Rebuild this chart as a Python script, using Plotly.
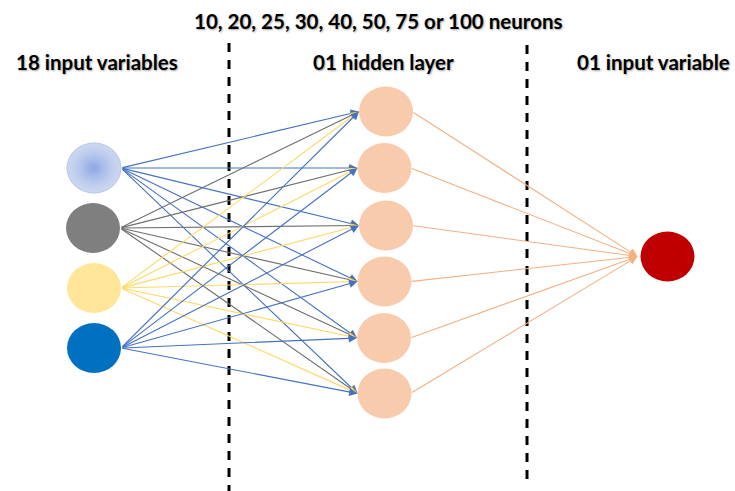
import plotly.graph_objects as go

W, H = 735, 491

# ---- data (diagram layout) ----
input_labels = ["input 1", "input 2", "input 3", "input 4"]
input_x = [94, 93, 94, 94]
input_y = [168, 228, 288, 348]
input_colors = ["#C9D6EF", "#7F7F7F", "#FFE699", "#0070C0"]
edge_colors = ["#4472C4", "#6F6F6F", "#FFD966", "#4472C4"]

hidden_x = [386, 384.5, 386, 384.5, 384, 384.5]
hidden_y = [111.5, 168, 225.5, 281.5, 338, 393.5]
hidden_color = "#F8CBAD"

output_x = [667.5]
output_y = [256.5]
output_color = "#C00000"
output_edge_color = "#F4B183"

divider_x = [229, 527]
divider_y0 = [43, 45]
divider_y1 = [491, 487]

layer_titles = ["18 input variables", "01 hidden layer", "01 input variable"]
layer_title_x = [97, 383, 653]
layer_title_y = [62, 62, 62]
top_note = "10, 20, 25, 30, 40, 50, 75 or 100 neurons"
top_note_x = 378
top_note_y = 21

RX, RY = 27, 25

fig = go.Figure()
# invisible trace to establish axes
fig.add_trace(go.Scatter(x=[0, W], y=[0, H], mode="markers",
                         marker=dict(opacity=0), hoverinfo="skip", showlegend=False))

shapes = []
annotations = []

# dashed dividers
for x, y0, y1 in zip(divider_x, divider_y0, divider_y1):
    shapes.append(dict(type="line", x0=x, x1=x, y0=y0, y1=y1, xref="x", yref="y",
                       line=dict(color="black", width=3, dash="9px,8px"), layer="below"))

# input -> hidden edges
for xi, yi, col in zip(input_x, input_y, edge_colors):
    for xh, yh in zip(hidden_x, hidden_y):
        annotations.append(dict(x=xh - RX, y=yh, ax=xi + RX, ay=yi, xref="x", yref="y",
                                axref="x", ayref="y", showarrow=True, arrowhead=2,
                                arrowsize=1.5, arrowwidth=1.1, arrowcolor=col, text="",
                                standoff=0, startstandoff=0))

# hidden -> output edges
for xh, yh in zip(hidden_x, hidden_y):
    annotations.append(dict(x=output_x[0] - RX - 3, y=output_y[0], ax=xh + RX - 1, ay=yh,
                            xref="x", yref="y", axref="x", ayref="y", showarrow=True,
                            arrowhead=2, arrowsize=1.5, arrowwidth=1.1,
                            arrowcolor=output_edge_color, text="", standoff=0))

def ellipse(cx, cy, rx, ry, fill, line_color=None, lw=0):
    return dict(type="circle", xref="x", yref="y", x0=cx - rx, x1=cx + rx,
                y0=cy - ry, y1=cy + ry, fillcolor=fill,
                line=dict(color=line_color or fill, width=lw), layer="below")

def hex2rgb(h):
    h = h.lstrip("#")
    return tuple(int(h[i:i + 2], 16) for i in (0, 2, 4))

# input nodes (first has radial gradient)
for i, (cx, cy, col) in enumerate(zip(input_x, input_y, input_colors)):
    if i == 0:
        outer = hex2rgb("#CAD6F0")
        inner = hex2rgb("#8EA8E6")
        n = 14
        shapes.append(ellipse(cx, cy, RX, RY, "#CAD6F0", "#B4C7E7", 1))
        for k in range(1, n):
            t = k / n
            c = tuple(int(outer[j] + (inner[j] - outer[j]) * t ** 1.3) for j in range(3))
            f = 1 - t * 0.95
            shapes.append(ellipse(cx, cy, (RX - 1) * f, (RY - 1) * f, "rgb(%d,%d,%d)" % c))
    else:
        shapes.append(ellipse(cx, cy, RX, RY, col))

for cx, cy in zip(hidden_x, hidden_y):
    shapes.append(ellipse(cx, cy, RX, RY, hidden_color))

for cx, cy in zip(output_x, output_y):
    shapes.append(ellipse(cx, cy, RX, RY, output_color))

font = dict(family="Lato, 'Open Sans', sans-serif", size=20.5, color="black",
            weight="bold", shadow="1px 1px 2px rgba(0,0,0,0.35)")
for t, x, y in zip(layer_titles, layer_title_x, layer_title_y):
    annotations.append(dict(text=t, x=x, y=y, xref="x", yref="y", showarrow=False,
                            font=font, xanchor="center", yanchor="middle"))
annotations.append(dict(text=top_note, x=top_note_x, y=top_note_y, xref="x", yref="y",
                        showarrow=False, font=font, xanchor="center", yanchor="middle"))

fig.update_layout(
    width=W, height=H, margin=dict(l=0, r=0, t=0, b=0),
    paper_bgcolor="white", plot_bgcolor="white",
    xaxis=dict(range=[0, W], visible=False, fixedrange=True),
    yaxis=dict(range=[H, 0], visible=False, fixedrange=True),
    shapes=shapes, annotations=annotations, showlegend=False,
)

fig.write_html("out.html", config={"displayModeBar": False},
               post_script="document.body.style.margin='0';document.body.style.overflow='hidden';")
